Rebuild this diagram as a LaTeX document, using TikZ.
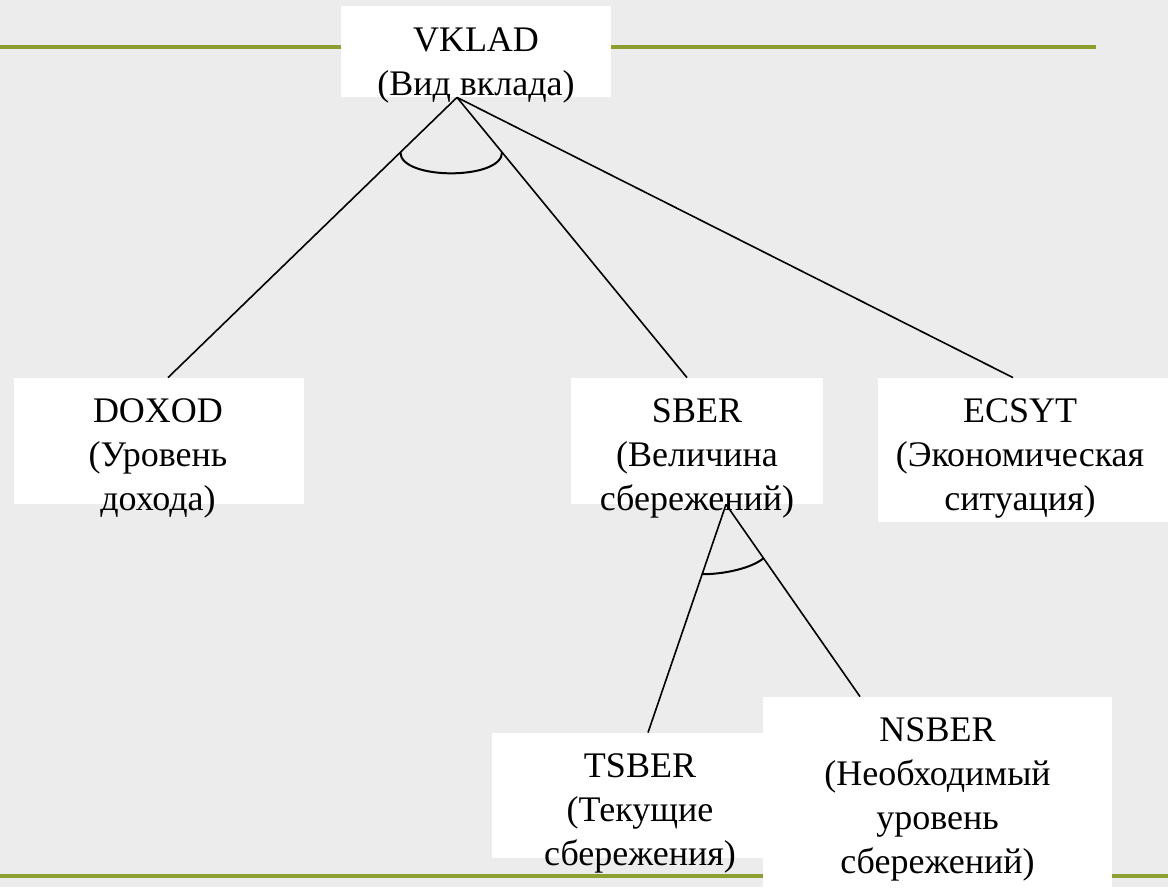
\documentclass[tikz,border=0pt]{standalone}
\usepackage{fontspec}
\setmainfont{Liberation Serif}
\usetikzlibrary{calc}
\definecolor{slidegray}{RGB}{236,236,236}
\definecolor{rulegreen}{RGB}{139,160,48}

\begin{document}
\begin{tikzpicture}[x=0.5bp, y=-0.5bp,
  box/.style={rectangle, fill=white, inner sep=0pt},
  txt/.style={align=center, inner sep=0pt, font=\fontsize{18bp}{22bp}\selectfont},
  link/.style={line width=0.8bp},
  andarc/.style={line width=1bp}]
\fill[slidegray] (0,0) rectangle (1168,887);
\useasboundingbox (0,0) rectangle (1168,887);
\draw[rulegreen, line width=1.75bp] (0,47) -- (1096,47);
\draw[rulegreen, line width=1.75bp] (0,876) -- (1168,876);

\node[box, minimum width=135bp, minimum height=45.5bp] (vklad) at (476,51.5) {};
\node[txt] (vklad-t) at (476,65.5) {VKLAD\\(Вид вклада)};
\node[box, minimum width=145bp, minimum height=63bp] (doxod) at (159,441) {};
\node[txt] (doxod-t) at (158,458.5) {DOXOD\\(Уровень\\дохода)};
\node[box, minimum width=126bp, minimum height=63bp] (sber) at (697,441) {};
\node[txt] (sber-t) at (697,458.5) {SBER\\(Величина\\сбережений)};
\node[box, minimum width=145bp, minimum height=72bp] (ecsyt) at (1023,450) {};
\node[txt] (ecsyt-t) at (1020,458.5) {ECSYT\\(Экономическая\\ситуация)};
\node[box, minimum width=148bp, minimum height=62.5bp] (tsber) at (640,795.5) {};
\node[txt] (tsber-t) at (640,813) {TSBER\\(Текущие\\сбережения)};
\node[box, minimum width=174.5bp, minimum height=95bp] (nsber) at (937.5,792) {};
\node[txt] (nsber-t) at (937.5,799.5) {NSBER\\(Необходимый\\уровень\\сбережений)};

\coordinate (vk-out) at ($(vklad.south)+(-19,0)$);
\coordinate (dx-in) at ($(doxod.north)+(9,0)$);
\coordinate (sb-in) at ($(sber.north)+(-10,0)$);
\coordinate (ec-in) at ($(ecsyt.north)+(-10,0)$);
\coordinate (sb-out) at ($(sber.south)+(29,0)$);
\coordinate (ts-in) at ($(tsber.north)+(8,0)$);
\coordinate (ns-in) at ($(nsber.north)+(-77.5,0)$);

\draw[link] (vk-out) -- (dx-in);
\draw[link] (vk-out) -- (sb-in);
\draw[link] (vk-out) -- (ec-in);
\draw[andarc] ($(vk-out)!0.196!(dx-in)$) .. controls +(0,28) and +(0,28) .. ($(vk-out)!0.196!(sb-in)$);
\draw[link] (sb-out) -- (ts-in);
\draw[link] (sb-out) -- (ns-in);
\draw[andarc] ($(sb-out)!0.306!(ts-in)$) .. controls +(22,0) and +(-12,10) .. ($(sb-out)!0.28!(ns-in)$);
\end{tikzpicture}
\end{document}
